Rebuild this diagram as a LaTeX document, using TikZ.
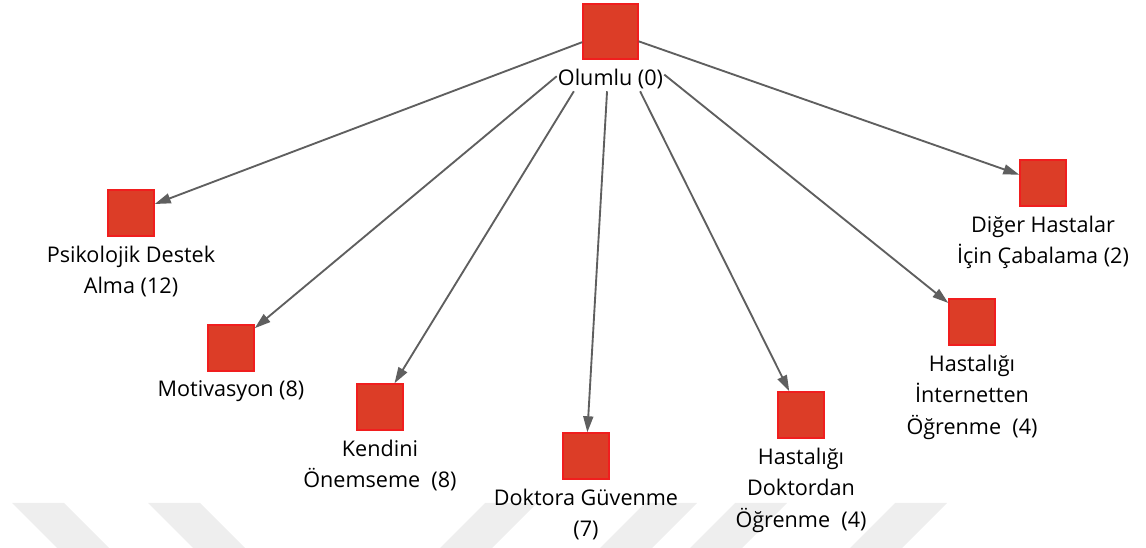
\documentclass[tikz,border=0pt]{standalone}
\usepackage{fontspec}
\setmainfont{Open Sans}
\usetikzlibrary{arrows.meta}
\definecolor{boxfill}{HTML}{DC3D27}
\definecolor{boxedge}{HTML}{F01E1E}
\definecolor{linkgray}{HTML}{5F5F5F}
\definecolor{wmgray}{HTML}{EEEEEE}

\begin{document}
\begin{tikzpicture}[x=0.75pt,y=-0.75pt,
  code/.style={draw=boxedge, fill=boxfill, line width=1.1pt, minimum size=34.5pt, inner sep=0pt},
  rootcode/.style={code, minimum size=41.25pt},
  lbl/.style={anchor=north, align=center, inner sep=0pt,
    font=\fontsize{16.2pt}{23.6pt}\selectfont},
  hubbox/.style={draw=none, inner sep=0pt, minimum width=80.25pt, minimum height=89.25pt},
  link/.style={draw=linkgray, line width=1.4pt, -{Triangle[length=12pt,width=7.5pt]}},
  wmark/.style={fill=wmgray, draw=none}
]
\useasboundingbox (0,0) rectangle (1146,548);

% faint chevrons along the lower edge
\path[wmark] (12,503) -- (64,503) -- (109,548) -- (57,548) -- cycle;
\path[wmark] (148,503) -- (200,503) -- (245,548) -- (193,548) -- cycle;
\path[wmark] (440,548) -- (492,548) -- (537,503) -- (485,503) -- cycle;
\path[wmark] (600,548) -- (652,548) -- (697,503) -- (645,503) -- cycle;
\path[wmark] (690,548) -- (742,548) -- (787,503) -- (735,503) -- cycle;
\path[wmark] (850,548) -- (902,548) -- (947,503) -- (895,503) -- cycle;

% code squares
\node[rootcode] (O)  at (610.5,31.5) {};
\node[code]     (P)  at (131,213) {};
\node[code]     (M)  at (231,348) {};
\node[code]     (K)  at (380,407) {};
\node[code]     (D)  at (586,456) {};
\node[code]     (HD) at (801,415) {};
\node[code]     (HI) at (972,322) {};
\node[code]     (DH) at (1043,183) {};

% the root square together with its caption, used to clip the links
\node[hubbox] (Ohub) at (O) {};

% captions
\node[lbl] (Ol)  at ([yshift=-6.75pt]O.south)  {Olumlu (0)};
\node[lbl] (Pl)  at ([yshift=-6.75pt]P.south)  {Psikolojik Destek\\Alma (12)};
\node[lbl] (Ml)  at ([yshift=-6.75pt]M.south)  {Motivasyon (8)};
\node[lbl] (Kl)  at ([yshift=-6.75pt]K.south)  {Kendini\\Önemseme\ \ (8)};
\node[lbl] (Dl)  at ([yshift=-6.75pt]D.south)  {Doktora Güvenme\\(7)};
\node[lbl] (HDl) at ([yshift=-6.75pt]HD.south) {Hastalığı\\Doktordan\\Öğrenme\ \ (4)};
\node[lbl] (HIl) at ([yshift=-6.75pt]HI.south) {Hastalığı\\İnternetten\\Öğrenme\ \ (4)};
\node[lbl] (DHl) at ([yshift=-6.75pt]DH.south) {Diğer Hastalar\\İçin Çabalama (2)};

% links from the root
\draw[link] (O) -- (P);
\draw[link] (Ohub) -- (M);
\draw[link] (Ohub) -- (K);
\draw[link] (Ohub) -- (D);
\draw[link] (Ohub) -- (HD);
\draw[link] (Ohub) -- (HI);
\draw[link] (O) -- (DH);
\end{tikzpicture}
\end{document}
